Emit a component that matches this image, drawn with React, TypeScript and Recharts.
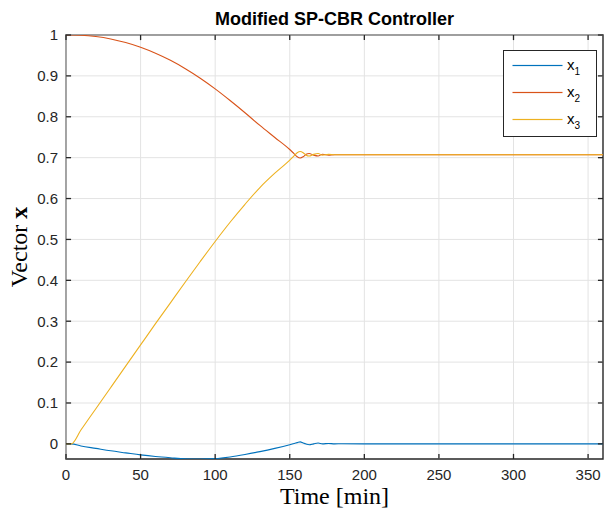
import React from 'react';
import { LineChart, Line, XAxis, YAxis, Legend, Label, ReferenceLine, ReferenceArea } from 'recharts';

const timeMin = [0, 3.5, 10, 20, 30, 40, 50, 60, 70, 80, 90, 100, 110, 120, 130, 140, 150, 153, 155, 157, 159, 161, 163, 166, 169, 172, 176, 180, 185, 200, 250, 300, 360];
const x1Values = [0, 0, -0.005, -0.011, -0.017, -0.022, -0.027, -0.031, -0.034, -0.0365, -0.037, -0.036, -0.032, -0.026, -0.019, -0.011, -0.002, 0.001, 0.003, 0.005, 0.002, -0.0005, -0.002, 0.0, 0.002, 0.0, 0.001, 0.0, 0.0003, 0, 0, 0, 0];
const x2Values = [1, 1, 0.9994, 0.9962, 0.9903, 0.9815, 0.9699, 0.9553, 0.938, 0.9175, 0.8943, 0.8682, 0.8398, 0.8099, 0.7788, 0.7494, 0.72, 0.7092, 0.7022, 0.6991, 0.7022, 0.7082, 0.7102, 0.7062, 0.7042, 0.7082, 0.7062, 0.7071, 0.7071, 0.7071, 0.7071, 0.7071, 0.7071];
const x3Values = [0, 0, 0.034, 0.086, 0.138, 0.19, 0.242, 0.294, 0.345, 0.396, 0.446, 0.495, 0.542, 0.586, 0.627, 0.662, 0.694, 0.705, 0.712, 0.715, 0.712, 0.706, 0.704, 0.708, 0.71, 0.706, 0.708, 0.7071, 0.7071, 0.7071, 0.7071, 0.7071, 0.7071];

const xTicks = [0, 50, 100, 150, 200, 250, 300, 350];
const yTicks = [0, 0.1, 0.2, 0.3, 0.4, 0.5, 0.6, 0.7, 0.8, 0.9, 1];
const xDomain = [0, 360];
const yDomain = [-0.037, 1];
const seriesKeys = ['x1', 'x2', 'x3'];
const seriesSubs = ['1', '2', '3'];
const seriesColors = ['#0072BD', '#D95319', '#EDB120'];

const data = timeMin.map((t, i) => ({ t, x1: x1Values[i], x2: x2Values[i], x3: x3Values[i] }));

const AX = '#262626';
const GRID = '#e3e3e3';
const SANS = '"Liberation Sans", Arial, Helvetica, sans-serif';
const SERIF = '"Liberation Serif", "Times New Roman", serif';
// inward tick length (~5px) expressed in axis units
const X_TICK_LEN = 3.4;
const Y_TICK_LEN = 0.0125;

const LegendBox = () => (
  <svg width={94} height={88} style={{ display: 'block' }}>
    <rect x={0.5} y={0.5} width={93} height={86} fill="#fff" stroke={AX} strokeWidth={1} />
    {seriesKeys.map((k, i) => {
      const cy = 15.5 + 27 * i;
      return (
        <g key={k}>
          <rect x={9.5} y={cy - 0.6} width={50} height={1.2} fill={seriesColors[i]} />
          <text x={64} y={cy + 4} fontFamily={SANS} fontSize={15} fill="#000">
            x<tspan dy={5} fontSize={10}>{seriesSubs[i]}</tspan>
          </text>
        </g>
      );
    })}
  </svg>
);

const YTitle = (props: any) => {
  const vb = props.viewBox || { x: 0, y: 35, width: 66, height: 424 };
  const cx = 19;
  const cy = vb.y + vb.height / 2;
  return (
    <text x={cx} y={cy} transform={`rotate(-90, ${cx}, ${cy})`} textAnchor="middle" dominantBaseline="central" fontFamily={SERIF} fontSize={24} fill="#000">
      Vector <tspan fontWeight="bold">x</tspan>
    </text>
  );
};

const XTitle = (props: any) => {
  const vb = props.viewBox || { x: 66, y: 459, width: 537, height: 57 };
  return (
    <text x={vb.x + vb.width / 2} y={504} textAnchor="middle" fontFamily={SERIF} fontSize={24} fill="#000">
      Time [min]
    </text>
  );
};

const TopTitle = (props: any) => {
  const vb = props.viewBox || { x: 66, y: 35, width: 537, height: 0 };
  return (
    <text x={vb.x + vb.width / 2} y={25} textAnchor="middle" fontFamily={SANS} fontWeight="bold" fontSize={18} fill="#000">
      Modified SP-CBR Controller
    </text>
  );
};

export default function App() {
  const y0 = yDomain[0];
  const y1 = yDomain[1];
  const t0 = xDomain[0];
  const t1 = xDomain[1];
  return (
    <div style={{ position: 'fixed', left: 0, top: 0, width: 606, height: 516, background: '#fff' }}>
      <LineChart width={606} height={516} data={data} margin={{ top: 34, right: 2, bottom: 0, left: 0 }}>
        <XAxis
          dataKey="t"
          type="number"
          domain={xDomain}
          ticks={xTicks}
          interval={0}
          height={57}
          allowDataOverflow
          axisLine={false}
          tickLine={false}
          tickSize={-5}
          tickMargin={15}
          tick={{ fill: '#262626', fontSize: 15, fontFamily: SANS }}
        >
          <Label content={<XTitle />} />
        </XAxis>
        <XAxis
          xAxisId="top"
          orientation="top"
          dataKey="t"
          type="number"
          domain={xDomain}
          height={1}
          axisLine={false}
          tickLine={false}
          tick={false}
        >
          <Label content={<TopTitle />} />
        </XAxis>
        <YAxis
          type="number"
          domain={yDomain}
          ticks={yTicks}
          interval={0}
          width={66}
          allowDataOverflow
          axisLine={false}
          tickLine={false}
          tickSize={-5}
          tickMargin={13}
          tick={{ fill: '#262626', fontSize: 15, fontFamily: SANS }}
        >
          <Label content={<YTitle />} />
        </YAxis>
        <YAxis yAxisId="right" orientation="right" type="number" domain={yDomain} width={1} axisLine={false} tickLine={false} tick={false} />
        {xTicks.map((xt) => (
          <ReferenceLine key={`gx${xt}`} ifOverflow="visible" x={xt} stroke={GRID} strokeWidth={1} />
        ))}
        {yTicks.map((yt) => (
          <ReferenceLine key={`gy${yt}`} ifOverflow="visible" y={yt} stroke={GRID} strokeWidth={1} />
        ))}
        {seriesKeys.map((k, i) => (
          <Line
            key={k}
            type="monotone"
            dataKey={k}
            stroke={seriesColors[i]}
            strokeWidth={1.1}
            dot={false}
            isAnimationActive={false}
          />
        ))}
        {xTicks.map((xt) => (
          <ReferenceLine key={`bt${xt}`} ifOverflow="visible" stroke={AX} strokeWidth={1.3} segment={[{ x: xt, y: y0 }, { x: xt, y: y0 + Y_TICK_LEN }]} />
        ))}
        {xTicks.map((xt) => (
          <ReferenceLine key={`tt${xt}`} ifOverflow="visible" stroke={AX} strokeWidth={1.3} segment={[{ x: xt, y: y1 }, { x: xt, y: y1 - Y_TICK_LEN }]} />
        ))}
        {yTicks.map((yt) => (
          <ReferenceLine key={`lt${yt}`} ifOverflow="visible" stroke={AX} strokeWidth={1.3} segment={[{ x: t0, y: yt }, { x: t0 + X_TICK_LEN, y: yt }]} />
        ))}
        {yTicks.map((yt) => (
          <ReferenceLine key={`rt${yt}`} ifOverflow="visible" stroke={AX} strokeWidth={1.3} segment={[{ x: t1, y: yt }, { x: t1 - X_TICK_LEN, y: yt }]} />
        ))}
        <ReferenceArea
          ifOverflow="visible"
          x1={t0}
          x2={t1}
          y1={y0}
          y2={y1}
          fill="none"
          fillOpacity={0}
          stroke={AX}
          strokeWidth={1.4}
          strokeOpacity={1}
        />
        <Legend
          layout="vertical"
          align="center"
          verticalAlign="middle"
          content={<LegendBox />}
          wrapperStyle={{ left: 503, top: 50, width: 94, height: 88 }}
        />
      </LineChart>
    </div>
  );
}
